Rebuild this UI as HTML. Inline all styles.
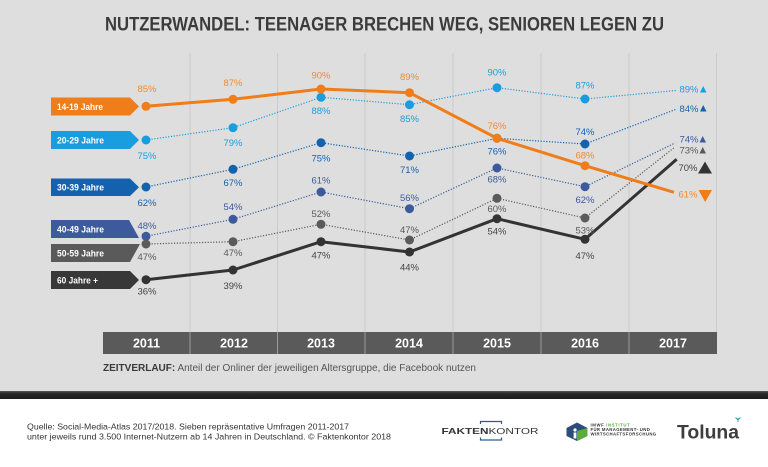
<!DOCTYPE html>
<html><head><meta charset="utf-8"><style>
html,body{margin:0;padding:0;background:#fff;}
svg{display:block;}
text{font-family:"Liberation Sans",Arial,sans-serif;}
</style></head><body>
<svg width="768" height="467" viewBox="0 0 768 467" xmlns="http://www.w3.org/2000/svg">
<defs>
<linearGradient id="band" x1="0" y1="0" x2="0" y2="1">
<stop offset="0" stop-color="#5a5a5a"/><stop offset="0.3" stop-color="#2a2a2a"/><stop offset="1" stop-color="#1c1c1c"/>
</linearGradient>
</defs>
<rect x="0" y="0" width="768" height="391" fill="#dedede"/>
<rect x="0" y="391" width="768" height="8" fill="url(#band)"/>
<rect x="0" y="399" width="768" height="68" fill="#ffffff"/>

<text x="105" y="30.5" font-size="19" font-weight="bold" fill="#3b3b3b" textLength="559" lengthAdjust="spacingAndGlyphs">NUTZERWANDEL: TEENAGER BRECHEN WEG, SENIOREN LEGEN ZU</text>

<g stroke="#cbcbcb" stroke-width="1">
<line x1="190" y1="53" x2="190" y2="332"/>
<line x1="277.5" y1="53" x2="277.5" y2="332"/>
<line x1="365" y1="53" x2="365" y2="332"/>
<line x1="453" y1="53" x2="453" y2="332"/>
<line x1="541" y1="53" x2="541" y2="332"/>
<line x1="629" y1="53" x2="629" y2="332"/>
<line x1="716.5" y1="53" x2="716.5" y2="332"/>
</g>

<!-- year bar -->
<rect x="103" y="332" width="614" height="22" fill="#5a5a5a"/>
<g stroke="#9a9a9a" stroke-width="1">
<line x1="190" y1="332" x2="190" y2="354"/><line x1="277.5" y1="332" x2="277.5" y2="354"/>
<line x1="365" y1="332" x2="365" y2="354"/><line x1="453" y1="332" x2="453" y2="354"/>
<line x1="541" y1="332" x2="541" y2="354"/><line x1="629" y1="332" x2="629" y2="354"/>
</g>
<g font-size="12.5" font-weight="bold" fill="#ffffff" text-anchor="middle">
<text x="146.5" y="347.5">2011</text><text x="234" y="347.5">2012</text><text x="321" y="347.5">2013</text>
<text x="409" y="347.5">2014</text><text x="497" y="347.5">2015</text><text x="585" y="347.5">2016</text><text x="673" y="347.5">2017</text>
</g>

<text x="103" y="371" font-size="10.5" fill="#555" textLength="373" lengthAdjust="spacingAndGlyphs"><tspan font-weight="bold" fill="#3a3a3a">ZEITVERLAUF:</tspan> Anteil der Onliner der jeweiligen Altersgruppe, die Facebook nutzen</text>

<!-- legend tags -->
<polygon points="51,97.5 130,97.5 139,106.5 130,115.5 51,115.5" fill="#ee7d1a"/>
<polygon points="51,131 130,131 139,140 130,149 51,149" fill="#1a9ddf"/>
<polygon points="51,178.5 130,178.5 139,187.3 130,196 51,196" fill="#1462ae"/>
<polygon points="51,220 129,220 139,238 51,238" fill="#3d5a9d"/>
<polygon points="51,244 140,244 130,262 51,262" fill="#5a5a5a"/>
<polygon points="51,271 130,271 139,280 130,289 51,289" fill="#383838"/>
<g font-size="9.3" font-weight="bold" fill="#ffffff">
<text x="57" y="109.8" textLength="46" lengthAdjust="spacingAndGlyphs">14-19 Jahre</text>
<text x="57" y="143.3" textLength="47" lengthAdjust="spacingAndGlyphs">20-29 Jahre</text>
<text x="57" y="190.6" textLength="47" lengthAdjust="spacingAndGlyphs">30-39 Jahre</text>
<text x="57" y="232.3" textLength="47" lengthAdjust="spacingAndGlyphs">40-49 Jahre</text>
<text x="57" y="256.3" textLength="47" lengthAdjust="spacingAndGlyphs">50-59 Jahre</text>
<text x="57" y="283.3" textLength="41" lengthAdjust="spacingAndGlyphs">60 Jahre +</text>
</g>

<!-- dotted series -->
<g fill="none" stroke-width="1.2" stroke-dasharray="1.2 1.6">
<polyline stroke="#1a9ddf" points="146,140 233,127.7 321,97.3 409.5,104.7 497,87.7 585,99 676,90.5"/>
<polyline stroke="#1462ae" points="146,187 233,169.3 321,142.7 409.5,156 497,138.3 585,144 676,109.3"/>
<polyline stroke="#3d5a9d" points="146,236.3 233,219.3 321,192 409.5,208.7 497,168 585,186.7 675,143"/>
<polyline stroke="#5a5a5a" points="146,244 233,241.7 321,224.3 409.5,240 497,198.3 585,218 675,147"/>
</g>
<!-- solid series -->
<polyline fill="none" stroke="#333333" stroke-width="3" stroke-linejoin="round" points="146,279.7 233,270 321,241.7 409.5,252 497,218.7 585,239.3 676.7,159.3"/>
<polyline fill="none" stroke="#ee7d1a" stroke-width="3" stroke-linejoin="round" points="146,106.3 233,99.3 321,89 409.5,92.7 497,138.3 585,165.7 674,192.3"/>

<!-- dots -->
<g fill="#1a9ddf"><circle cx="146" cy="140" r="4.5"/><circle cx="233" cy="127.7" r="4.5"/><circle cx="321" cy="97.3" r="4.5"/><circle cx="409.5" cy="104.7" r="4.5"/><circle cx="497" cy="87.7" r="4.5"/><circle cx="585" cy="99" r="4.5"/></g>
<g fill="#1462ae"><circle cx="146" cy="187" r="4.5"/><circle cx="233" cy="169.3" r="4.5"/><circle cx="321" cy="142.7" r="4.5"/><circle cx="409.5" cy="156" r="4.5"/><circle cx="497" cy="138.3" r="4.5"/><circle cx="585" cy="144" r="4.5"/></g>
<g fill="#3d5a9d"><circle cx="146" cy="236.3" r="4.5"/><circle cx="233" cy="219.3" r="4.5"/><circle cx="321" cy="192" r="4.5"/><circle cx="409.5" cy="208.7" r="4.5"/><circle cx="497" cy="168" r="4.5"/><circle cx="585" cy="186.7" r="4.5"/></g>
<g fill="#5a5a5a"><circle cx="146" cy="244" r="4.5"/><circle cx="233" cy="241.7" r="4.5"/><circle cx="321" cy="224.3" r="4.5"/><circle cx="409.5" cy="240" r="4.5"/><circle cx="497" cy="198.3" r="4.5"/><circle cx="585" cy="218" r="4.5"/></g>
<g fill="#333333"><circle cx="146" cy="279.7" r="4.5"/><circle cx="233" cy="270" r="4.5"/><circle cx="321" cy="241.7" r="4.5"/><circle cx="409.5" cy="252" r="4.5"/><circle cx="497" cy="218.7" r="4.5"/><circle cx="585" cy="239.3" r="4.5"/></g>
<g fill="#ee7d1a"><circle cx="146" cy="106.3" r="4.5"/><circle cx="233" cy="99.3" r="4.5"/><circle cx="321" cy="89" r="4.5"/><circle cx="409.5" cy="92.7" r="4.5"/><circle cx="497" cy="138.3" r="4.5"/><circle cx="585" cy="165.7" r="4.5"/></g>

<!-- value labels -->
<g font-size="9.5" text-anchor="middle">
<g fill="#ee8a2e">
<text x="147" y="91.8">85%</text><text x="233" y="86.2">87%</text><text x="321" y="78.5">90%</text><text x="409.5" y="80.2">89%</text><text x="497" y="128.8">76%</text><text x="585" y="158.5">68%</text>
</g>
<g fill="#1a9ddf">
<text x="147" y="159.2">75%</text><text x="233" y="146.2">79%</text><text x="321" y="114.2">88%</text><text x="409.5" y="121.8">85%</text><text x="497" y="75.5">90%</text><text x="585" y="88.5">87%</text>
</g>
<g fill="#1462ae">
<text x="147" y="206.2">62%</text><text x="233" y="186.2">67%</text><text x="321" y="161.5">75%</text><text x="409.5" y="172.8">71%</text><text x="497" y="154.5">76%</text><text x="585" y="134.8">74%</text>
</g>
<g fill="#3d5a9d">
<text x="147" y="228.8">48%</text><text x="233" y="210.2">54%</text><text x="321" y="183.5">61%</text><text x="409.5" y="201.2">56%</text><text x="497" y="182.5">68%</text><text x="585" y="203.2">62%</text>
</g>
<g fill="#5a5a5a">
<text x="147" y="260.2">47%</text><text x="233" y="256.2">47%</text><text x="321" y="216.8">52%</text><text x="409.5" y="233.2">47%</text><text x="497" y="211.8">60%</text><text x="585" y="233.5">53%</text>
</g>
<g fill="#444444">
<text x="147" y="294.5">36%</text><text x="233" y="288.8">39%</text><text x="321" y="258.5">47%</text><text x="409.5" y="270.5">44%</text><text x="497" y="234.5">54%</text><text x="585" y="258.8">47%</text>
</g>
<!-- end labels -->
<text x="689" y="92.5" fill="#1a9ddf">89%</text>
<text x="689" y="111.8" fill="#1462ae">84%</text>
<text x="689" y="142.5" fill="#3d5a9d">74%</text>
<text x="689" y="153.5" fill="#5a5a5a">73%</text>
<text x="688" y="171.2" fill="#444444">70%</text>
<text x="688" y="197.5" fill="#ee8a2e">61%</text>
</g>
<polygon points="700,92.5 706.5,92.5 703.2,86" fill="#1a9ddf"/>
<polygon points="700,111.5 706.5,111.5 703.2,105" fill="#1462ae"/>
<polygon points="699.5,142.5 706,142.5 702.7,136" fill="#3d5a9d"/>
<polygon points="699.5,153.5 706,153.5 702.7,147" fill="#5a5a5a"/>
<polygon points="698,173.5 712,173.5 705,161.5" fill="#333333"/>
<polygon points="698.5,190 712,190 705.2,202" fill="#ee7d1a"/>

<!-- footer -->
<g font-size="8.6" fill="#333">
<text x="27" y="429.5" textLength="322" lengthAdjust="spacingAndGlyphs">Quelle: Social-Media-Atlas 2017/2018. Sieben repräsentative Umfragen 2011-2017</text>
<text x="27" y="439.5" textLength="364" lengthAdjust="spacingAndGlyphs">unter jeweils rund 3.500 Internet-Nutzern ab 14 Jahren in Deutschland. © Faktenkontor 2018</text>
</g>

<!-- Faktenkontor logo -->
<g stroke="#2a5d8f" stroke-width="1.2" fill="none">
<polyline points="480.5,424 480.5,421.5 501.5,421.5 501.5,424"/>
<polyline points="480.5,437.5 480.5,440 501.5,440 501.5,437.5"/>
</g>
<text x="441.5" y="433.8" font-size="8.2" fill="#333" textLength="97" lengthAdjust="spacingAndGlyphs"><tspan font-weight="bold">FAKTEN</tspan>KONTOR</text>

<!-- IMWF logo -->
<polygon points="577,422.5 587.5,428 587.5,436 577,441 566.5,436 566.5,428" fill="#2c4d7a"/>
<polygon points="577,431 587.5,428 587.5,436 577,441" fill="#5cab3c"/>
<circle cx="575" cy="430" r="1.6" fill="#fff"/><rect x="573.6" y="432.5" width="2.8" height="6" fill="#fff"/>
<g font-size="4.3" font-weight="bold" fill="#333">
<text x="590.5" y="426.3" letter-spacing="0.6">IMWF <tspan fill="#5cab3c">INSTITUT</tspan></text>
<text x="590.5" y="431" letter-spacing="0.35">FÜR MANAGEMENT- UND</text>
<text x="590.5" y="435.5" letter-spacing="0.35">WIRTSCHAFTSFORSCHUNG</text>
</g>

<!-- Toluna logo -->
<text x="677" y="438.5" font-size="19.5" font-weight="bold" fill="#3e3e3e" textLength="62" lengthAdjust="spacingAndGlyphs">Toluna</text>
<g stroke="#3aa7a0" stroke-width="1" fill="none">
<line x1="738" y1="422" x2="738" y2="418"/><line x1="738" y1="420" x2="735.5" y2="417.5"/><line x1="738" y1="420" x2="740.5" y2="417.5"/>
</g>
</svg>
</body></html>
